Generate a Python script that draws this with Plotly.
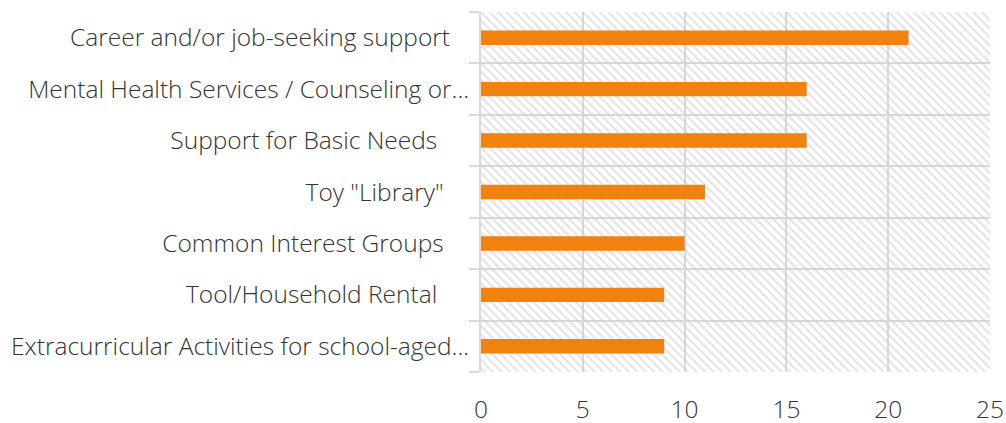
import plotly.graph_objects as go

# Survey categories (top to bottom) and counts
categories = [
    "Career and/or job-seeking support",
    "Mental Health Services / Counseling or...",
    "Support for Basic Needs",
    "Toy \"Library\"",
    "Common Interest Groups",
    "Tool/Household Rental",
    "Extracurricular Activities for school-aged...",
]
counts = [21, 16, 16, 11, 10, 9, 9]
# trailing padding the original labels carry
pad = [3, 0, 5, 4, 4, 5, 0]

x_max = 25
rows = list(range(len(categories)))
labels = [c + "\u00a0" * p for c, p in zip(categories, pad)]

fig = go.Figure()

# hatched plot background (transparent base so the grid shows through)
fig.add_trace(go.Bar(
    x=[x_max] * len(rows),
    y=rows,
    orientation='h',
    width=1,
    marker=dict(color='rgba(0,0,0,0)', line_width=0,
                pattern=dict(shape='\\', fgcolor='#cccccc', bgcolor='rgba(0,0,0,0)',
                             size=6, solidity=0.4)),
    hoverinfo='skip',
    showlegend=False,
))

fig.add_trace(go.Bar(
    x=counts,
    y=rows,
    orientation='h',
    width=0.28,
    marker=dict(color='#f0820f', line_width=0),
    showlegend=False,
))

fig.update_layout(
    width=1006, height=423,
    barmode='overlay',
    margin=dict(l=481, r=16, t=12, b=51),
    plot_bgcolor='white',
    paper_bgcolor='white',
    font=dict(family='Open Sans', size=24.5, color='#333333', weight=300),
)

fig.update_xaxes(
    range=[0, x_max], dtick=5, automargin=False,
    showgrid=True, gridcolor='#d9d9d9', gridwidth=2,
    zeroline=False, showline=False,
    ticklabelstandoff=20,
    tickfont=dict(size=24.5, color='#333333', weight=300),
)

fig.update_yaxes(
    tickvals=rows, ticktext=labels, automargin=False,
    range=[len(rows) - 0.5, -0.5],
    showgrid=False, zeroline=False,
    showline=True, linecolor='#d9d9d9', linewidth=2,
    ticks='', ticklabelstandoff=5,
    tickfont=dict(size=24.5, color='#333333', weight=300),
    minor=dict(tickvals=[r - 0.5 for r in rows] + [len(rows) - 0.5],
               showgrid=True, gridcolor='#d9d9d9', gridwidth=2,
               ticks='outside', ticklen=10, tickcolor='#d9d9d9', tickwidth=2),
)

# drop the default page margin so the figure fills the window exactly
fig.write_html("out.html",
               config={'displayModeBar': False},
               post_script="document.body.style.margin='0';document.body.style.overflow='hidden';")
